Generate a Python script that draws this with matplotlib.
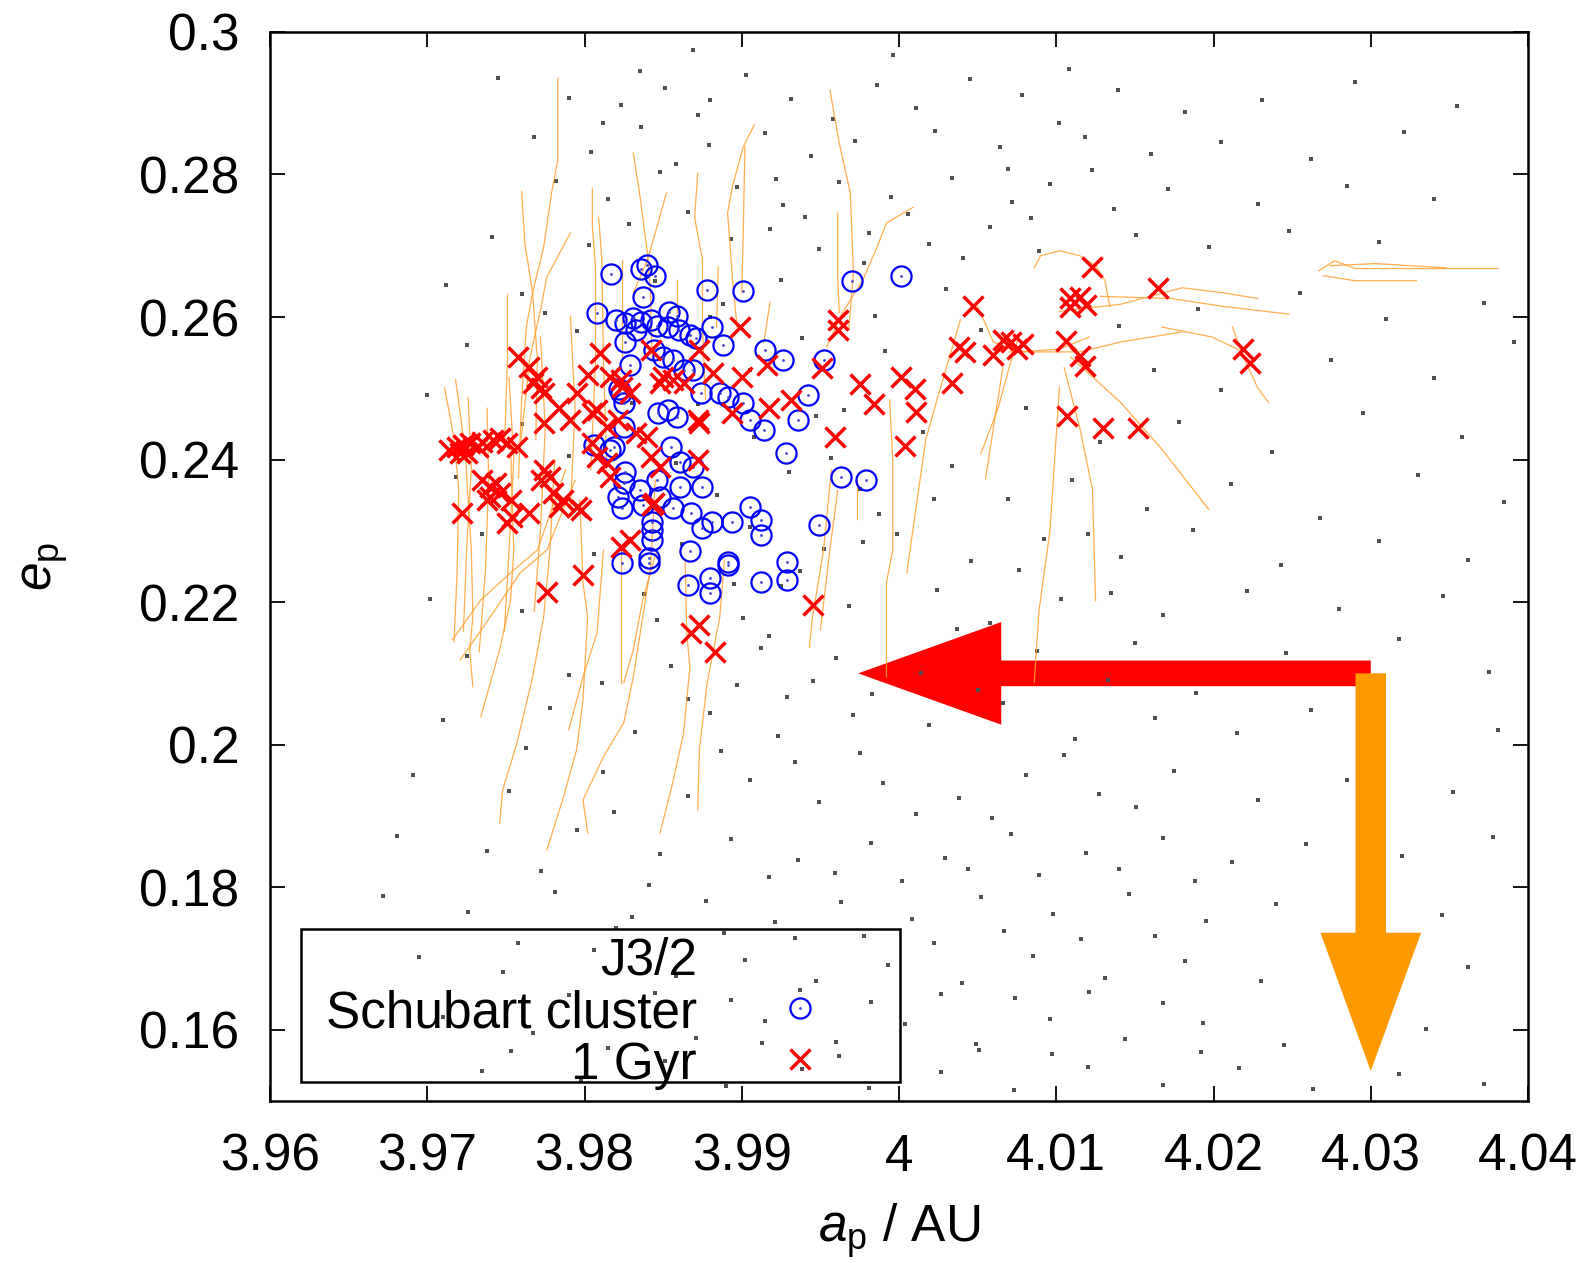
import matplotlib
matplotlib.use('Agg')
import matplotlib.pyplot as plt
from matplotlib.patches import Rectangle
from matplotlib.ticker import FuncFormatter

# Schubart cluster (blue circles)
schubart_a = [3.9817, 3.9836, 3.9840, 3.9845, 3.9837, 3.9878, 3.9901, 3.9970, 4.0001, 3.9808,
              3.9820, 3.9826, 3.9831, 3.9836, 3.9842, 3.9846, 3.9833, 3.9854, 3.9859, 3.9853,
              3.9860, 3.9867, 3.9871, 3.9881, 3.9888, 3.9915, 3.9926, 3.9952, 3.9826, 3.9829,
              3.9844, 3.9850, 3.9856, 3.9863, 3.9869, 3.9874, 3.9886, 3.9891, 3.9901, 3.9905,
              3.9914, 3.9928, 3.9936, 3.9942, 3.9823, 3.9825, 3.9847, 3.9853, 3.9859, 3.9825,
              3.9819, 3.9855, 3.9861, 3.9869, 3.9826, 3.9963, 3.9979, 3.9825, 3.9835, 3.9846,
              3.9861, 3.9875, 3.9821, 3.9824, 3.9837, 3.9848, 3.9856, 3.9843, 3.9843, 3.9843,
              3.9841, 3.9841, 3.9824, 3.9868, 3.9875, 3.9881, 3.9894, 3.9905, 3.9912, 3.9912,
              3.9949, 3.9867, 3.9891, 3.9891, 3.9880, 3.9866, 3.9880, 3.9912, 3.9929, 3.9929,
              3.9806, 3.9816, 3.9822]
schubart_e = [0.2661, 0.2668, 0.2673, 0.2657, 0.2628, 0.2638, 0.2636, 0.2650, 0.2658, 0.2605,
              0.2596, 0.2592, 0.2599, 0.2593, 0.2596, 0.2587, 0.2582, 0.2607, 0.2602, 0.2586,
              0.2582, 0.2575, 0.2570, 0.2586, 0.2561, 0.2554, 0.2540, 0.2540, 0.2565, 0.2532,
              0.2554, 0.2544, 0.2540, 0.2526, 0.2526, 0.2494, 0.2494, 0.2488, 0.2480, 0.2456,
              0.2442, 0.2409, 0.2456, 0.2491, 0.2494, 0.2480, 0.2466, 0.2470, 0.2460, 0.2446,
              0.2418, 0.2418, 0.2396, 0.2390, 0.2383, 0.2376, 0.2372, 0.2367, 0.2357, 0.2371,
              0.2361, 0.2361, 0.2348, 0.2332, 0.2336, 0.2348, 0.2332, 0.2313, 0.2301, 0.2287,
              0.2262, 0.2255, 0.2255, 0.2325, 0.2304, 0.2313, 0.2313, 0.2334, 0.2315, 0.2294,
              0.2308, 0.2271, 0.2252, 0.2256, 0.2234, 0.2224, 0.2213, 0.2228, 0.2256, 0.2231,
              0.2421, 0.2414, 0.2499]

# 1 Gyr (red crosses)
gyr_a = [3.9758, 3.9765, 3.9770, 3.9767, 3.9772, 3.9774, 3.9810, 3.9802, 3.9816, 3.9823,
         3.9824, 3.9829, 3.9795, 3.9784, 3.9774, 3.9791, 3.9808, 3.9814, 3.9714, 3.9719,
         3.9723, 3.9727, 3.9732, 3.9735, 3.9742, 3.9746, 3.9751, 3.9757, 3.9721, 3.9725,
         3.9735, 3.9740, 3.9744, 3.9740, 3.9746, 3.9753, 3.9738, 3.9751, 3.9754, 3.9722,
         3.9765, 3.9774, 3.9778, 3.9772, 3.9780, 3.9786, 3.9784, 3.9795, 3.9798, 3.9805,
         3.9808, 3.9814, 3.9816, 3.9821, 3.9833, 3.9840, 3.9842, 3.9848, 3.9844, 3.9829,
         3.9823, 3.9842, 3.9850, 3.9856, 3.9863, 3.9873, 3.9882, 3.9872, 3.9873, 3.9872,
         3.9899, 3.9961, 3.9961, 3.9900, 3.9916, 3.9951, 3.9931, 3.9917, 3.9894, 3.9959,
         3.9848, 3.9805, 3.9843, 3.9799, 3.9873, 3.9868, 3.9883, 3.9945, 3.9776,
         3.9975, 3.9984, 4.0001, 4.0010, 4.0011, 4.0004, 4.0034, 4.0047, 4.0038, 4.0042,
         4.0060, 4.0066, 4.0071, 4.0075, 4.0079, 4.0106, 4.0115, 4.0118, 4.0123, 4.0109,
         4.0115, 4.0109, 4.0119, 4.0107, 4.0130, 4.0152, 4.0165, 4.0219, 4.0223]
gyr_e = [0.2544, 0.2530, 0.2516, 0.2508, 0.2501, 0.2494, 0.2550, 0.2519, 0.2516, 0.2512,
         0.2502, 0.2494, 0.2494, 0.2472, 0.2451, 0.2456, 0.2470, 0.2446, 0.2414, 0.2418,
         0.2421, 0.2423, 0.2418, 0.2425, 0.2428, 0.2430, 0.2423, 0.2418, 0.2409, 0.2409,
         0.2371, 0.2362, 0.2367, 0.2348, 0.2353, 0.2343, 0.2343, 0.2311, 0.2320, 0.2325,
         0.2325, 0.2385, 0.2376, 0.2371, 0.2353, 0.2343, 0.2334, 0.2334, 0.2329, 0.2423,
         0.2404, 0.2395, 0.2376, 0.2456, 0.2437, 0.2432, 0.2404, 0.2390, 0.2339, 0.2287,
         0.2277, 0.2554, 0.2516, 0.2512, 0.2508, 0.2554, 0.2522, 0.2456, 0.2451, 0.2400,
         0.2586, 0.2596, 0.2582, 0.2516, 0.2533, 0.2529, 0.2484, 0.2472, 0.2465, 0.2432,
         0.2508, 0.2465, 0.2336, 0.2238, 0.2168, 0.2157, 0.2130, 0.2196, 0.2214,
         0.2506, 0.2478, 0.2516, 0.2499, 0.2467, 0.2419, 0.2508, 0.2616, 0.2558, 0.2551,
         0.2547, 0.2568, 0.2565, 0.2555, 0.2562, 0.2566, 0.2545, 0.2531, 0.2670, 0.2627,
         0.2628, 0.2614, 0.2617, 0.2461, 0.2444, 0.2444, 0.2641, 0.2555, 0.2536]

# background particles (grey dots)
bg_a = [3.9745, 3.9790, 3.9823, 3.9851, 3.9872, 3.9903, 3.9931, 3.9958, 3.9986, 4.0011, 4.0045, 4.0078,
        4.0102, 4.0139, 4.0182, 4.0231, 4.0290, 4.0355,
        3.9768, 3.9804, 3.9836, 3.9879, 3.9915, 3.9944, 3.9972, 4.0023, 4.0064, 4.0118, 4.0160, 4.0205,
        4.0262, 4.0321,
        3.9782, 3.9815, 3.9848, 3.9866, 3.9897, 3.9926, 3.9962, 3.9995, 4.0034, 4.0072, 4.0096, 4.0137,
        4.0171, 4.0228, 4.0285, 4.0340,
        3.9741, 3.9803, 3.9828, 3.9893, 3.9918, 3.9949, 3.9981, 4.0019, 4.0058, 4.0089, 4.0151, 4.0197,
        4.0248, 4.0305,
        3.9712, 3.9760, 3.9888, 3.9925, 3.9985, 4.0030, 4.0140, 4.0190, 4.0255, 4.0310, 4.0372,
        3.9725, 3.9938, 3.9991, 4.0052, 4.0162, 4.0205, 4.0275, 4.0340, 4.0391,
        3.9700, 3.9872, 3.9947, 4.0015, 4.0081, 4.0128, 4.0178, 4.0237, 4.0295, 4.0358,
        3.9718, 3.9790, 3.9930, 3.9975, 4.0034, 4.0069, 4.0110, 4.0158, 4.0211, 4.0268, 4.0330, 4.0385,
        3.9735, 3.9806, 3.9862, 3.9905, 3.9952, 3.9999, 4.0046, 4.0092, 4.0141, 4.0187, 4.0243, 4.0305,
        4.0362,
        3.9702, 3.9760, 3.9838, 3.9901, 3.9925, 3.9968, 4.0024, 4.0058, 4.0103, 4.0168, 4.0221, 4.0280,
        4.0346,
        3.9725, 3.9790, 3.9855, 3.9912, 3.9945, 4.0088, 4.0150, 4.0246, 4.0318, 4.0375,
        3.9710, 3.9778, 3.9832, 3.9880, 3.9923, 3.9971, 4.0019, 4.0066, 4.0112, 4.0163, 4.0215, 4.0262,
        4.0381,
        3.9691, 3.9752, 3.9812, 3.9866, 3.9905, 3.9949, 3.9990, 4.0038, 4.0081, 4.0127, 4.0175, 4.0228,
        4.0285, 4.0352,
        3.9681, 3.9738, 3.9795, 3.9848, 3.9893, 3.9936, 3.9982, 4.0029, 4.0071, 4.0119, 4.0168, 4.0212,
        4.0259, 4.0320, 4.0378,
        3.9672, 3.9726, 3.9781, 3.9830, 3.9877, 3.9921, 3.9963, 4.0008, 4.0052, 4.0098, 4.0146, 4.0195,
        4.0240, 4.0345,
        3.9695, 3.9748, 3.9806, 3.9858, 3.9902, 3.9947, 3.9993, 4.0040, 4.0085, 4.0131, 4.0182, 4.0230,
        4.0362,
        3.9710, 3.9767, 3.9822, 3.9871, 3.9915, 3.9960, 4.0004, 4.0049, 4.0096, 4.0144, 4.0193, 4.0245,
        4.0335,
        3.9735, 3.9798, 3.9851, 3.9890, 3.9938, 3.9981, 4.0027, 4.0073, 4.0120, 4.0168, 4.0216, 4.0263,
        4.0318, 4.0372,
        3.9795, 3.9830, 3.9858, 3.9884, 3.9880, 3.9905, 3.9965, 3.9760, 3.9775, 3.9845,
        3.9812, 3.9858, 3.9880, 3.9922, 3.9940, 3.9978, 4.0006, 4.0041, 4.0069, 4.0084, 4.0123, 4.0108,
        3.9996, 3.9869, 3.9835,
        3.9908, 3.9957, 3.9987, 4.0022, 3.9977, 3.9937, 3.9895, 3.9846, 3.9917, 3.9960, 4.0037, 4.0076,
        4.0135, 4.0120,
        3.9811, 3.9866, 3.9897, 3.9929, 3.9983, 4.0014, 4.0050, 4.0133, 4.0189,
        3.9763, 3.9819, 3.9887, 3.9934, 3.9975, 4.0011, 4.0059, 4.0105, 4.0151,
        3.9772, 3.9841, 3.9917, 3.9959, 4.0002, 4.0044, 4.0089, 4.0140, 4.0188,
        3.9758, 3.9820, 3.9889, 3.9934, 3.9978, 4.0022, 4.0067, 4.0116, 4.0163,
        3.9790, 3.9845, 3.9893, 3.9937, 3.9982, 4.0027, 4.0074, 4.0121, 4.0168,
        3.9753, 3.9815, 3.9868, 3.9913, 3.9962, 4.0051, 4.0097, 4.0192]
bg_e = [0.2935, 0.2908, 0.2897, 0.2921, 0.2884, 0.2940, 0.2906, 0.2878, 0.2925, 0.2893, 0.2934, 0.2911,
        0.2872, 0.2918, 0.2888, 0.2905, 0.2930, 0.2896,
        0.2852, 0.2831, 0.2866, 0.2842, 0.2858, 0.2826, 0.2847, 0.2861, 0.2838, 0.2853, 0.2829, 0.2846,
        0.2822, 0.2859,
        0.2791, 0.2765, 0.2803, 0.2748, 0.2782, 0.2757, 0.2790, 0.2768, 0.2795, 0.2761, 0.2786, 0.2752,
        0.2779, 0.2758, 0.2784, 0.2766,
        0.2712, 0.2701, 0.2731, 0.2709, 0.2724, 0.2696, 0.2718, 0.2703, 0.2727, 0.2692, 0.2715, 0.2698,
        0.2721, 0.2705,
        0.2645, 0.2632, 0.2618, 0.2652, 0.2601, 0.2640, 0.2588, 0.2611, 0.2634, 0.2597, 0.2620,
        0.2561, 0.2571, 0.2553, 0.2582, 0.2526, 0.2498, 0.2540, 0.2515, 0.2565,
        0.2490, 0.2478, 0.2461, 0.2438, 0.2472, 0.2425, 0.2453, 0.2411, 0.2466, 0.2432,
        0.2376, 0.2405, 0.2382, 0.2358, 0.2391, 0.2345, 0.2372, 0.2331, 0.2365, 0.2318, 0.2378, 0.2341,
        0.2295, 0.2268, 0.2281, 0.2306, 0.2275, 0.2296, 0.2258, 0.2289, 0.2263, 0.2301, 0.2252, 0.2286,
        0.2259,
        0.2205, 0.2188, 0.2212, 0.2178, 0.2223, 0.2195, 0.2217, 0.2171, 0.2204, 0.2182, 0.2215, 0.2190,
        0.2208,
        0.2125, 0.2098, 0.2110, 0.2135, 0.2089, 0.2131, 0.2143, 0.2128, 0.2148, 0.2102,
        0.2035, 0.2052, 0.2018, 0.2045, 0.2012, 0.2041, 0.2027, 0.2058, 0.2008, 0.2037, 0.2016, 0.2049,
        0.2021,
        0.1958, 0.1935, 0.1962, 0.1928, 0.1951, 0.1919, 0.1946, 0.1925, 0.1957, 0.1931, 0.1963, 0.1922,
        0.1950, 0.1933,
        0.1872, 0.1851, 0.1880, 0.1846, 0.1868, 0.1838, 0.1862, 0.1841, 0.1875, 0.1848, 0.1869, 0.1835,
        0.1861, 0.1844, 0.1870,
        0.1788, 0.1765, 0.1793, 0.1758, 0.1781, 0.1751, 0.1779, 0.1755, 0.1786, 0.1762, 0.1790, 0.1752,
        0.1777, 0.1761,
        0.1702, 0.1681, 0.1712, 0.1676, 0.1698, 0.1669, 0.1691, 0.1665, 0.1703, 0.1672, 0.1696, 0.1668,
        0.1688,
        0.1618, 0.1596, 0.1625, 0.1589, 0.1612, 0.1583, 0.1608, 0.1580, 0.1615, 0.1587, 0.1610, 0.1579,
        0.1601,
        0.1542, 0.1528, 0.1556, 0.1521, 0.1545, 0.1518, 0.1540, 0.1515, 0.1548, 0.1522, 0.1546, 0.1517,
        0.1538, 0.1524,
        0.2580, 0.2480, 0.2395, 0.2350, 0.2600, 0.2525, 0.2470, 0.2450, 0.2605, 0.2650,
        0.2872, 0.2815, 0.2905, 0.2793, 0.2741, 0.2676, 0.2744, 0.2683, 0.2807, 0.2739, 0.2806, 0.2948,
        0.2968, 0.2975, 0.2945,
        0.2431, 0.2402, 0.2323, 0.2345, 0.2285, 0.2244, 0.2226, 0.2175, 0.2152, 0.2122, 0.2162, 0.2245,
        0.2213, 0.2295,
        0.2087, 0.2064, 0.2083, 0.2067, 0.2071, 0.2101, 0.2076, 0.2091, 0.2072,
        0.1995, 0.1905, 0.1991, 0.1975, 0.1988, 0.1903, 0.1897, 0.1986, 0.1912,
        0.1822, 0.1803, 0.1814, 0.1820, 0.1808, 0.1825, 0.1817, 0.1826, 0.1808,
        0.1722, 0.1742, 0.1736, 0.1728, 0.1732, 0.1721, 0.1738, 0.1727, 0.1731,
        0.1648, 0.1652, 0.1641, 0.1656, 0.1639, 0.1650, 0.1645, 0.1653, 0.1638,
        0.1570, 0.1575, 0.1567, 0.1581, 0.1563, 0.1572, 0.1566, 0.1569]

# orbital tracks (orange), each as ([a...], [e...])
tracks = [
    ([3.9783, 3.9783, 3.9779, 3.9774, 3.9767, 3.9763, 3.9760, 3.9758], [0.2935, 0.2820, 0.2774, 0.2698, 0.2634, 0.2586, 0.2484, 0.2374]),
    ([3.9760, 3.9762, 3.9767, 3.9770, 3.9769], [0.2776, 0.2704, 0.2634, 0.2540, 0.2428]),
    ([3.9791, 3.9776, 3.9772, 3.9765, 3.9759], [0.2718, 0.2656, 0.2610, 0.2540, 0.2414]),
    ([3.9751, 3.9751, 3.9749], [0.2631, 0.2540, 0.2414]),
    ([3.9805, 3.9805, 3.9807, 3.9807, 3.9804], [0.2781, 0.2726, 0.2670, 0.2540, 0.2386]),
    ([3.9809, 3.9811, 3.9812, 3.9814], [0.2740, 0.2680, 0.2540, 0.2400]),
    ([3.9831, 3.9835, 3.9840, 3.9842, 3.9843], [0.2830, 0.2774, 0.2690, 0.2634, 0.2540]),
    ([3.9852, 3.9846, 3.9840, 3.9831], [0.2774, 0.2726, 0.2680, 0.2634]),
    ([3.9824, 3.9824, 3.9824], [0.2680, 0.2634, 0.2540]),
    ([3.9872, 3.9870, 3.9875, 3.9875, 3.9877], [0.2802, 0.2740, 0.2680, 0.2586, 0.2484]),
    ([3.9908, 3.9901, 3.9894, 3.9891, 3.9894, 3.9897], [0.2870, 0.2839, 0.2783, 0.2746, 0.2656, 0.2586]),
    ([3.9902, 3.9901, 3.9900], [0.2839, 0.2726, 0.2634]),
    ([3.9885, 3.9884], [0.2670, 0.2586]),
    ([3.9859, 3.9859], [0.2652, 0.2606]),
    ([3.9956, 3.9962, 3.9969, 3.9971, 3.9968], [0.2919, 0.2844, 0.2774, 0.2662, 0.2582]),
    ([3.9961, 3.9961, 3.9962], [0.2746, 0.2656, 0.2606]),
    ([4.0009, 3.9992, 3.9986, 3.9977, 3.9964, 3.9954], [0.2754, 0.2732, 0.2698, 0.2652, 0.2606, 0.2558]),
    ([3.9918, 3.9914], [0.2621, 0.2564]),
    ([3.9716, 3.9734, 3.9755, 3.9770, 3.9788], [0.2147, 0.2203, 0.2245, 0.2273, 0.2386]),
    ([3.9721, 3.9740, 3.9759, 3.9776, 3.9794], [0.2119, 0.2179, 0.2241, 0.2273, 0.2371]),
    ([3.9729, 3.9727, 3.9729, 3.9728, 3.9724, 3.9718], [0.2081, 0.2133, 0.2179, 0.2273, 0.2414, 0.2512]),
    ([3.9734, 3.9746, 3.9753, 3.9755, 3.9753], [0.2039, 0.2133, 0.2203, 0.2273, 0.2414]),
    ([3.9746, 3.9748, 3.9757, 3.9767, 3.9774, 3.9778, 3.9781], [0.1890, 0.1937, 0.2002, 0.2095, 0.2179, 0.2273, 0.2400]),
    ([3.9776, 3.9786, 3.9795, 3.9799, 3.9802, 3.9799, 3.9797], [0.1852, 0.1922, 0.1993, 0.2063, 0.2179, 0.2227, 0.2343]),
    ([3.9790, 3.9799, 3.9808, 3.9812], [0.2021, 0.2095, 0.2157, 0.2273]),
    ([3.9802, 3.9799, 3.9812, 3.9825, 3.9831, 3.9837, 3.9842, 3.9845], [0.1876, 0.1922, 0.1983, 0.2031, 0.2095, 0.2179, 0.2249, 0.2371]),
    ([3.9825, 3.9831, 3.9837, 3.9846], [0.2087, 0.2133, 0.2203, 0.2273]),
    ([3.9848, 3.9856, 3.9863, 3.9867, 3.9865, 3.9864], [0.1876, 0.1946, 0.2016, 0.2109, 0.2157, 0.2259]),
    ([3.9872, 3.9873, 3.9878, 3.9882, 3.9886, 3.9889], [0.1908, 0.1993, 0.2087, 0.2133, 0.2179, 0.2259]),
    ([3.9823, 3.9823], [0.2273, 0.2087]),
    ([3.9943, 3.9945, 3.9952, 3.9957], [0.2137, 0.2179, 0.2273, 0.2386]),
    ([3.9950, 3.9956, 3.9961], [0.2161, 0.2273, 0.2357]),
    ([3.9992, 3.9992, 3.9996, 3.9996, 3.9994], [0.2095, 0.2227, 0.2273, 0.2400, 0.2484]),
    ([4.0005, 4.0007, 4.0017, 4.0026, 4.0039], [0.2241, 0.2273, 0.2428, 0.2498, 0.2596]),
    ([3.9973, 3.9973], [0.2372, 0.2316]),
    ([4.0086, 4.0090, 4.0102, 4.0115, 4.0125, 4.0131, 4.0134], [0.2669, 0.2686, 0.2693, 0.2686, 0.2672, 0.2651, 0.2615]),
    ([4.0128, 4.0173, 4.0206, 4.0248], [0.2629, 0.2626, 0.2615, 0.2604]),
    ([4.0102, 4.0141, 4.0180, 4.0206, 4.0228], [0.2608, 0.2618, 0.2641, 0.2634, 0.2626]),
    ([4.0109, 4.0141, 4.0167, 4.0197], [0.2544, 0.2480, 0.2415, 0.2330]),
    ([4.0105, 4.0115, 4.0123, 4.0125], [0.2529, 0.2444, 0.2358, 0.2202]),
    ([4.0102, 4.0099, 4.0096, 4.0089, 4.0086], [0.2501, 0.2401, 0.2301, 0.2187, 0.2087]),
    ([4.0066, 4.0060, 4.0055], [0.2529, 0.2444, 0.2373]),
    ([4.0212, 4.0219, 4.0228, 4.0235], [0.2586, 0.2544, 0.2501, 0.2480]),
    ([4.0167, 4.0199, 4.0219], [0.2586, 0.2572, 0.2551]),
    ([4.0076, 4.0070, 4.0063, 4.0052], [0.2572, 0.2529, 0.2472, 0.2408]),
    ([4.0050, 4.0060, 4.0076, 4.0102, 4.0121], [0.2615, 0.2565, 0.2551, 0.2555, 0.2572]),
    ([4.0070, 4.0115, 4.0141, 4.0180], [0.2551, 0.2551, 0.2565, 0.2579]),
    ([4.0267, 4.0277, 4.0290, 4.0381], [0.2665, 0.2679, 0.2668, 0.2668]),
    ([4.0270, 4.0290, 4.0329], [0.2658, 0.2651, 0.2651]),
    ([4.0274, 4.0303, 4.0348], [0.2672, 0.2675, 0.2669]),
    ([3.9711, 3.9717, 3.9720, 3.9719, 3.9717], [0.2501, 0.2430, 0.2358, 0.2244, 0.2144]),
    ([3.9726, 3.9728, 3.9725, 3.9723], [0.2487, 0.2387, 0.2273, 0.2159]),
    ([3.9738, 3.9739, 3.9737, 3.9733], [0.2472, 0.2373, 0.2244, 0.2130]),
    ([3.9752, 3.9755, 3.9752, 3.9749], [0.2515, 0.2401, 0.2273, 0.2159]),
    ([3.9772, 3.9775, 3.9772, 3.9768], [0.2572, 0.2444, 0.2301, 0.2187]),
    ([3.9791, 3.9794, 3.9791], [0.2601, 0.2472, 0.2330]),
]

XTICKS = [3.96, 3.97, 3.98, 3.99, 4.00, 4.01, 4.02, 4.03, 4.04]
YTICKS = [0.16, 0.18, 0.20, 0.22, 0.24, 0.26, 0.28, 0.30]
LEGEND_LABELS = ['J3/2', 'Schubart cluster', '1 Gyr']

FS = 37

plt.rcParams['font.family'] = ['Liberation Sans', 'DejaVu Sans']
plt.rcParams['mathtext.fontset'] = 'custom'
plt.rcParams['mathtext.rm'] = 'Liberation Sans'
plt.rcParams['mathtext.it'] = 'Liberation Sans:italic'

fig = plt.figure(figsize=(15.96, 12.63), dpi=100)
ax = fig.add_axes([0.1692, 0.1283, 0.7882, 0.8464])
ax.set_xlim(3.96, 4.04)
ax.set_ylim(0.15, 0.30)

# arrows (drawn underneath everything)
ax.arrow(4.03, 0.21, 3.9974 - 4.03, 0, width=0.0036, head_width=0.0144, head_length=0.0091,
         length_includes_head=True, color='#ff0000', lw=0, zorder=1)
ax.arrow(4.03, 0.21, 0, 0.1542 - 0.21, width=0.00194, head_width=0.0064, head_length=0.0194,
         length_includes_head=True, color='#ff9900', lw=0, zorder=1.1)

ax.plot(bg_a, bg_e, ls='none', marker='s', ms=2.3, mew=0, color='#505050', zorder=2)

for ta, te in tracks:
    ax.plot(ta, te, color='#ffa030', lw=0.9, alpha=0.85, zorder=3)

circ_style = dict(ls='none', marker='o', ms=14.5, mfc='none', mec='#0000ff', mew=1.6)
dot_style = dict(ls='none', marker='o', ms=2, mew=0, color='#4444cc')
cross_style = dict(ls='none', marker='x', ms=15, mew=2.5, color='#ff0000')

ax.plot(schubart_a, schubart_e, zorder=4, **circ_style)
ax.plot(schubart_a, schubart_e, zorder=4, **dot_style)
ax.plot(gyr_a, gyr_e, zorder=5, **cross_style)

# gnuplot-style key: text right-aligned, sample to its right, no fill
ax.add_patch(Rectangle((0.0249, 0.0178), 0.4757, 0.1428, transform=ax.transAxes,
                       fill=False, ec='black', lw=1.8, zorder=6))
key_rows = [0.1179, 0.0683, 0.0206]
for lab, yb in zip(LEGEND_LABELS, key_rows):
    ax.text(0.3394, yb, lab, transform=ax.transAxes, ha='right', va='baseline',
            fontsize=FS, zorder=6)
ax.plot([0.4213], [0.0870], transform=ax.transAxes, zorder=6, clip_on=False, **circ_style)
ax.plot([0.4213], [0.0870], transform=ax.transAxes, zorder=6, clip_on=False, **dot_style)
ax.plot([0.4213], [0.0393], transform=ax.transAxes, zorder=6, clip_on=False, **cross_style)

ax.set_xticks(XTICKS)
ax.set_yticks(YTICKS)
fmt = FuncFormatter(lambda v, _: '%g' % round(v, 4))
ax.xaxis.set_major_formatter(fmt)
ax.yaxis.set_major_formatter(fmt)
ax.tick_params(direction='in', top=True, right=True, length=11, width=1.3, labelsize=FS)
ax.tick_params(axis='x', pad=23)
ax.tick_params(axis='y', pad=22)
for s in ax.spines.values():
    s.set_linewidth(1.8)

ax.set_xlabel(r'$a_\mathrm{p}$ / AU', fontsize=FS, labelpad=14)
ax.set_ylabel(r'$e_\mathrm{p}$', fontsize=FS, labelpad=50)

fig.savefig('out.png', dpi=100)
